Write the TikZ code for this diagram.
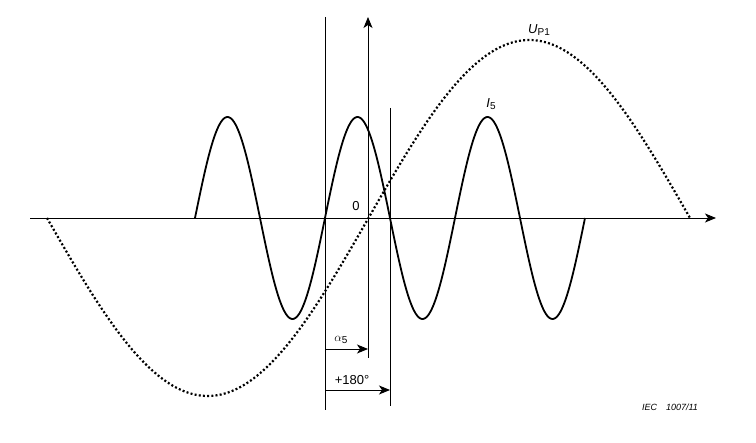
\documentclass[tikz,border=0pt]{standalone}
\usepackage{fontspec}
\setmainfont{Liberation Sans}
\usetikzlibrary{arrows.meta}
\begin{document}
\begin{tikzpicture}[x=1pt,y=-1pt,
  ax/.style={line width=0.9pt,-{Stealth[length=11pt,width=9pt,inset=3pt]}},
  vl/.style={line width=0.9pt},
  lbl/.style={font=\fontsize{13}{14}\selectfont}]
\useasboundingbox (0,0) rectangle (756,443);
% axes
\coordinate (xs) at (30,218); \coordinate (xe) at (716,218);
\draw[ax] (xs) -- (xe);
\coordinate (ys) at (368,358); \coordinate (ye) at (368,17);
\draw[ax] (ys) -- (ye);
% vertical lines
\coordinate (a1) at (325,17); \coordinate (a2) at (325,410);
\draw[vl] (a1) -- (a2);
\coordinate (b1) at (390,108); \coordinate (b2) at (390,406);
\draw[vl] (b1) -- (b2);
% U_P1 dotted
\draw[line width=2.2pt, dash pattern=on 2pt off 2.2pt] plot[domain=47:690,samples=200,smooth] (\x,{218+178*sin((\x-47)/643*360)});
% I5 solid
\draw[line width=1.8pt] plot[domain=195:585,samples=300,smooth] (\x,{218-101*sin((\x-195)/65*180)});
% arrows
\coordinate (p1) at (325,349); \coordinate (p2) at (368,349);
\draw[ax] (p1) -- (p2);
\coordinate (q1) at (325,390); \coordinate (q2) at (390,390);
\draw[ax] (q1) -- (q2);
% labels
\node[lbl] (zero) at (356,206) {0};
\node[lbl] (alpha) at (341,340) {$\alpha$\raisebox{-0.4ex}{\fontsize{10}{11}\selectfont 5}};
\node[lbl] (deg) at (352,380) {+180°};
\node[lbl] (up) at (539,30) {\textit{U}\raisebox{-0.4ex}{\fontsize{10}{11}\selectfont P1}};
\node[lbl] (ifive) at (491,104) {\textit{I}\raisebox{-0.4ex}{\fontsize{10}{11}\selectfont 5}};
\node[font=\itshape\fontsize{9}{10}\selectfont] (iec) at (670,407) {IEC\quad 1007/11};
\end{tikzpicture}
\end{document}
